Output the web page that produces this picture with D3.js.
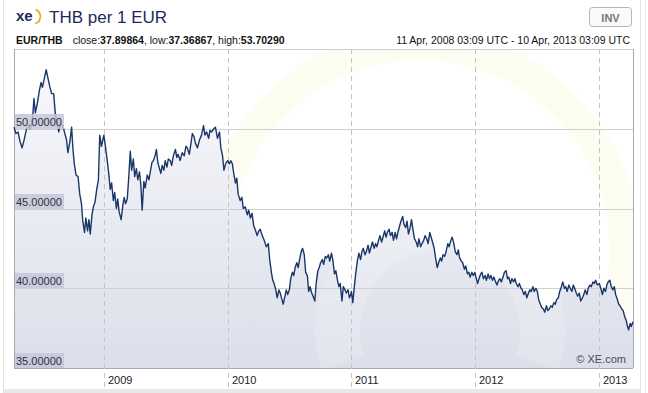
<!DOCTYPE html>
<html>
<head>
<meta charset="utf-8">
<script src="https://cdn.jsdelivr.net/npm/d3@7"></script>
<style>
  body { margin: 0; background: #fff; }
  svg { display: block; font-family: Arial, "Liberation Sans", sans-serif; }
</style>
</head>
<body>
<svg width="648" height="393"></svg>
<script>
var dates = [
  "2008-04-11","2008-04-17","2008-04-23","2008-04-29","2008-05-05","2008-05-11","2008-05-17","2008-05-23","2008-05-29","2008-06-04",
  "2008-06-09","2008-06-13","2008-06-19","2008-06-25","2008-06-30","2008-07-04","2008-07-10","2008-07-15","2008-07-21","2008-07-25",
  "2008-07-31","2008-08-06","2008-08-12","2008-08-18","2008-08-21","2008-08-27","2008-09-02","2008-09-08","2008-09-13","2008-09-17",
  "2008-09-23","2008-09-28","2008-10-02","2008-10-06","2008-10-11","2008-10-17","2008-10-22","2008-10-27","2008-10-31","2008-11-05",
  "2008-11-09","2008-11-14","2008-11-18","2008-11-22","2008-11-27","2008-12-01","2008-12-06","2008-12-11","2008-12-16","2008-12-20",
  "2008-12-25","2008-12-29",
  "2009-01-01","2009-01-05","2009-01-11","2009-01-15","2009-01-20","2009-01-24","2009-01-29","2009-02-02","2009-02-07","2009-02-11",
  "2009-02-15","2009-02-21","2009-02-26","2009-03-02","2009-03-06","2009-03-11","2009-03-15","2009-03-20","2009-03-24","2009-03-29",
  "2009-04-02","2009-04-07","2009-04-11","2009-04-16","2009-04-20","2009-04-24","2009-04-29","2009-05-03","2009-05-09","2009-05-14",
  "2009-05-18","2009-05-23","2009-05-27","2009-06-01","2009-06-05","2009-06-09","2009-06-14","2009-06-18","2009-06-22","2009-06-27",
  "2009-07-01","2009-07-06","2009-07-10","2009-07-16","2009-07-20","2009-07-25","2009-07-31","2009-08-04","2009-08-08","2009-08-14",
  "2009-08-20","2009-08-26","2009-08-31","2009-09-04","2009-09-10","2009-09-15","2009-09-19","2009-09-24","2009-09-28","2009-10-04",
  "2009-10-10","2009-10-16","2009-10-22","2009-10-26","2009-10-31","2009-11-06","2009-11-10","2009-11-15","2009-11-21","2009-11-26",
  "2009-12-02","2009-12-08","2009-12-12","2009-12-17","2009-12-21","2009-12-26",
  "2010-01-01","2010-01-06","2010-01-10","2010-01-15","2010-01-19","2010-01-24","2010-01-28","2010-02-01","2010-02-07","2010-02-12",
  "2010-02-16","2010-02-22","2010-02-28","2010-03-04","2010-03-09","2010-03-14","2010-03-19","2010-03-23","2010-03-29","2010-04-03",
  "2010-04-07","2010-04-13","2010-04-19","2010-04-25","2010-05-01","2010-05-05","2010-05-10","2010-05-14","2010-05-18","2010-05-23",
  "2010-05-27","2010-06-01","2010-06-05","2010-06-10","2010-06-14","2010-06-19","2010-06-23","2010-06-27","2010-07-02","2010-07-06",
  "2010-07-11","2010-07-15","2010-07-19","2010-07-24","2010-07-28","2010-08-02","2010-08-06","2010-08-10","2010-08-15","2010-08-19",
  "2010-08-24","2010-08-28","2010-09-01","2010-09-06","2010-09-10","2010-09-15","2010-09-19","2010-09-24","2010-09-28","2010-10-02",
  "2010-10-07","2010-10-11","2010-10-16","2010-10-20","2010-10-25","2010-10-29","2010-11-03","2010-11-07","2010-11-12","2010-11-16",
  "2010-11-21","2010-11-25","2010-11-29","2010-12-04","2010-12-08","2010-12-13","2010-12-17","2010-12-22","2010-12-26","2010-12-30",
  "2011-01-01","2011-01-05","2011-01-10","2011-01-14","2011-01-19","2011-01-23","2011-01-28","2011-02-01","2011-02-05","2011-02-10",
  "2011-02-14","2011-02-19","2011-02-23","2011-02-28","2011-03-04","2011-03-09","2011-03-13","2011-03-17","2011-03-22","2011-03-26",
  "2011-03-31","2011-04-04","2011-04-09","2011-04-13","2011-04-17","2011-04-22","2011-04-26","2011-05-01","2011-05-05","2011-05-10",
  "2011-05-14","2011-05-18","2011-05-23","2011-05-27","2011-06-01","2011-06-05","2011-06-10","2011-06-14","2011-06-18","2011-06-23",
  "2011-06-27","2011-07-02","2011-07-06","2011-07-11","2011-07-15","2011-07-19","2011-07-24","2011-07-28","2011-08-02","2011-08-06",
  "2011-08-11","2011-08-15","2011-08-20","2011-08-24","2011-08-28","2011-09-02","2011-09-06","2011-09-11","2011-09-15","2011-09-20",
  "2011-09-24","2011-09-28","2011-10-03","2011-10-07","2011-10-12","2011-10-16","2011-10-21","2011-10-25","2011-10-30","2011-11-03",
  "2011-11-08","2011-11-12","2011-11-16","2011-11-21","2011-11-25","2011-11-30","2011-12-04","2011-12-09","2011-12-13","2011-12-17",
  "2011-12-22","2011-12-26","2011-12-31",
  "2012-01-03","2012-01-08","2012-01-12","2012-01-17","2012-01-21","2012-01-25","2012-01-30","2012-02-03","2012-02-08","2012-02-12",
  "2012-02-16","2012-02-21","2012-02-25","2012-03-01","2012-03-05","2012-03-10","2012-03-14","2012-03-18","2012-03-23","2012-03-27",
  "2012-04-01","2012-04-05","2012-04-09","2012-04-14","2012-04-18","2012-04-23","2012-04-27","2012-05-01","2012-05-06","2012-05-10",
  "2012-05-15","2012-05-19","2012-05-23","2012-05-28","2012-06-01","2012-06-06","2012-06-10","2012-06-14","2012-06-19","2012-06-23",
  "2012-06-28","2012-07-02","2012-07-06","2012-07-11","2012-07-15","2012-07-20","2012-07-24","2012-07-29","2012-08-02","2012-08-06",
  "2012-08-11","2012-08-15","2012-08-20","2012-08-24","2012-08-28","2012-09-02","2012-09-06","2012-09-11","2012-09-15","2012-09-20",
  "2012-09-24","2012-09-28","2012-10-03","2012-10-07","2012-10-12","2012-10-16","2012-10-20","2012-10-25","2012-10-29","2012-11-03",
  "2012-11-07","2012-11-12","2012-11-16","2012-11-20","2012-11-25","2012-11-29","2012-12-04","2012-12-08","2012-12-13","2012-12-17",
  "2012-12-21","2012-12-26",
  "2013-01-01","2013-01-05","2013-01-10","2013-01-14","2013-01-19","2013-01-23","2013-01-27","2013-02-01","2013-02-05","2013-02-10",
  "2013-02-14","2013-02-18","2013-02-23","2013-02-27","2013-03-03","2013-03-08","2013-03-12","2013-03-17","2013-03-21","2013-03-25",
  "2013-03-28","2013-04-02","2013-04-05","2013-04-10"
];
var rates = [
  50.1,49.7,49.8,49.2,48.8,49.3,49.9,50.2,50.0,50.4,
  51.9,51.0,51.6,52.4,52.9,52.6,53.2,53.7,53.1,52.7,
  52.2,52.2,50.7,50.2,49.8,50.3,50.2,49.7,49.3,48.5,
  49.2,50.1,48.7,47.8,47.1,47.0,45.9,45.3,44.2,43.5,
  44.4,43.6,44.3,43.4,44.6,45.1,45.4,46.2,46.8,49.6,
  48.9,49.3,
  49.6,49.0,48.0,47.3,46.2,46.6,45.5,46.0,45.0,45.6,
  44.8,44.3,45.2,45.7,45.3,45.6,46.8,48.6,47.4,48.1,
  47.0,47.5,46.8,47.3,46.5,44.9,46.7,46.3,47.1,46.8,
  47.3,47.9,48.0,48.3,48.7,47.9,47.5,47.2,47.7,47.4,
  48.0,47.6,48.1,48.0,47.7,48.3,48.7,48.2,48.4,48.0,
  48.5,48.3,48.9,48.8,48.4,49.1,49.7,49.5,49.1,48.8,
  49.3,49.6,50.2,49.6,49.8,49.4,49.9,49.8,50.0,50.1,
  49.4,49.8,48.8,48.3,47.4,47.8,
  48.0,47.8,48.0,47.8,47.2,46.6,46.9,45.9,45.5,45.7,
  45.0,45.1,44.6,44.9,44.4,44.7,43.9,43.7,43.3,43.6,
  43.7,43.3,43.0,42.6,42.8,41.8,41.0,40.5,40.3,39.9,
  39.4,39.9,39.7,39.3,39.0,39.5,39.9,39.6,39.9,40.6,
  41.0,40.8,41.3,41.6,41.3,41.9,42.3,42.5,42.1,41.0,
  40.8,39.8,40.1,39.7,39.5,39.2,40.3,41.1,41.3,41.6,
  41.8,41.5,42.0,41.9,42.1,41.7,42.2,41.8,40.9,41.1,
  40.5,40.1,40.3,39.2,40.1,39.9,39.7,39.9,39.4,39.6,
  39.8,39.1,40.2,41.0,41.8,42.2,41.8,42.3,42.5,42.1,
  42.3,42.7,42.2,42.6,42.9,42.5,42.8,42.6,43.0,43.3,
  42.9,43.2,43.6,43.2,43.5,43.7,43.3,43.5,43.0,43.5,
  43.1,43.5,43.9,44.2,44.5,44.0,43.8,44.2,43.4,43.8,
  44.3,43.6,43.1,42.9,42.6,43.1,42.6,42.8,43.0,43.3,
  43.1,42.8,43.5,43.2,42.9,42.5,41.9,41.3,41.6,41.9,
  41.7,42.1,42.0,42.3,42.8,42.6,43.0,43.2,42.8,42.3,
  42.1,42.4,41.9,41.7,41.6,41.2,41.4,40.9,41.0,40.7,
  41.0,40.8,41.0,
  40.7,40.3,40.6,40.9,41.0,40.6,40.8,40.5,40.9,40.6,
  40.8,40.5,40.7,40.4,40.2,40.5,40.6,40.4,40.7,41.0,
  41.1,40.6,40.7,40.3,40.6,40.4,40.6,40.3,40.1,40.3,
  40.0,39.9,39.6,39.8,39.4,39.7,39.9,39.8,40.1,39.8,
  40.0,39.8,39.3,39.0,38.8,38.7,38.5,38.9,38.6,38.7,
  38.9,38.8,39.1,39.0,39.3,39.4,39.8,40.1,40.4,40.0,
  40.1,39.8,40.2,40.0,39.8,40.2,40.0,39.7,39.5,39.7,
  39.2,39.4,39.6,39.9,39.6,40.0,40.2,40.1,40.4,40.3,
  40.5,40.2,
  40.3,40.0,39.6,40.0,39.8,40.2,40.4,40.5,40.1,39.9,
  40.1,39.6,39.3,39.0,38.9,38.7,38.6,38.2,38.0,37.6,
  37.4,37.8,37.6,37.9
];
var yTicks = [35, 40, 45, 50];
var yearTicks = ["2009-01-01", "2010-01-01", "2011-01-01", "2012-01-01", "2013-01-01"];
var rangeStart = "2008-04-11 03:09";
var rangeEnd = "2013-04-10 03:09";

var parseDay = d3.timeParse("%Y-%m-%d");
var parseStamp = d3.timeParse("%Y-%m-%d %H:%M");
var series = dates.map(function (d, i) { return { date: parseDay(d), rate: rates[i] }; });

var svg = d3.select("svg");
var plotL = 14, plotR = 633, plotT = 49, plotB = 368;

var x = d3.scaleTime().domain([parseStamp(rangeStart), parseStamp(rangeEnd)]).range([plotL, plotR]);
var y = d3.scaleLinear().domain([35, 55]).range([plotB, plotT]);

var defs = svg.append("defs");
var grad = defs.append("linearGradient").attr("id", "areaGrad").attr("x1", 0).attr("y1", 0).attr("x2", 0).attr("y2", 1);
grad.append("stop").attr("offset", "0%").attr("stop-color", "#f7f8fb");
grad.append("stop").attr("offset", "100%").attr("stop-color", "#dcdfea");
defs.append("clipPath").attr("id", "plotClip")
  .append("rect").attr("x", plotL).attr("y", plotT).attr("width", plotR - plotL).attr("height", plotB - plotT);

// page frame
svg.append("line").attr("x1", 3.5).attr("x2", 3.5).attr("y1", 0).attr("y2", 393).attr("stroke", "#e2e2e2");
svg.append("line").attr("x1", 640.5).attr("x2", 640.5).attr("y1", 0).attr("y2", 393).attr("stroke", "#e2e2e2");
svg.append("line").attr("x1", 645.5).attr("x2", 645.5).attr("y1", 0).attr("y2", 393).attr("stroke", "#ececec");
svg.append("rect").attr("x", 4).attr("y", 389).attr("width", 636).attr("height", 4).attr("fill", "#e8e8e8");

// header
svg.append("text").attr("x", 16).attr("y", 21).attr("font-size", 15).attr("font-weight", "bold")
  .attr("fill", "#1d2a5c").text("xe");
svg.append("path").attr("d", d3.arc()({ innerRadius: 6.5, outerRadius: 8.2, startAngle: 0.35, endAngle: 2.85 }))
  .attr("transform", "translate(33,16.5)").attr("fill", "#f2a81d");
svg.append("text").attr("x", 49).attr("y", 23).attr("font-size", 17).attr("fill", "#1d2a5c").text("THB per 1 EUR");

var info = svg.append("text").attr("x", 16).attr("y", 44).attr("font-size", 10.5).attr("fill", "#111");
info.append("tspan").attr("font-weight", "bold").text("EUR/THB");
info.append("tspan").attr("dx", 10).text("close:");
info.append("tspan").attr("font-weight", "bold").text("37.89864");
info.append("tspan").text(", low:");
info.append("tspan").attr("font-weight", "bold").text("37.36867");
info.append("tspan").text(", high:");
info.append("tspan").attr("font-weight", "bold").text("53.70290");

svg.append("text").attr("x", 630).attr("y", 44).attr("font-size", 10.5).attr("fill", "#111")
  .attr("text-anchor", "end").text("11 Apr, 2008 03:09 UTC - 10 Apr, 2013 03:09 UTC");

svg.append("rect").attr("x", 589.5).attr("y", 7.5).attr("width", 42).attr("height", 19).attr("rx", 3)
  .attr("fill", "#fafafa").attr("stroke", "#b5b5b5");
svg.append("text").attr("x", 610.5).attr("y", 21.5).attr("font-size", 11).attr("font-weight", "bold")
  .attr("fill", "#777").attr("text-anchor", "middle").text("INV");

// plot background + faint watermark ring
svg.append("rect").attr("x", plotL).attr("y", plotT).attr("width", plotR - plotL).attr("height", plotB - plotT).attr("fill", "#fff");
var wm = svg.append("g").attr("clip-path", "url(#plotClip)");
wm.append("circle").attr("cx", 420).attr("cy", 250).attr("r", 205).attr("fill", "none")
  .attr("stroke", "#fefdf2").attr("stroke-width", 30);

// area under the line
var area = d3.area().x(function (d) { return x(d.date); }).y0(plotB).y1(function (d) { return y(d.rate); });
svg.append("path").datum(series).attr("d", area).attr("fill", "url(#areaGrad)").attr("clip-path", "url(#plotClip)");

var wm2 = svg.append("g").attr("clip-path", "url(#plotClip)").attr("fill", "#ffffff").attr("opacity", 0.18);
wm2.append("path").attr("d", d3.arc()({ innerRadius: 80, outerRadius: 125, startAngle: -1.9, endAngle: 1.9 }))
  .attr("transform", "translate(440,330)");

// grid
svg.append("g").selectAll("line").data(yTicks.concat([55])).enter().append("line")
  .attr("x1", plotL).attr("x2", plotR).attr("y1", function (d) { return Math.round(y(d)) + 0.5; })
  .attr("y2", function (d) { return Math.round(y(d)) + 0.5; })
  .attr("stroke", function (d) { return d === 35 ? "#a9a9b5" : "#cfcfd4"; });

var years = yearTicks.map(parseDay);
svg.append("g").selectAll("line").data(years).enter().append("line")
  .attr("x1", function (d) { return Math.round(x(d)) + 0.5; })
  .attr("x2", function (d) { return Math.round(x(d)) + 0.5; })
  .attr("y1", plotT).attr("y2", 389)
  .attr("stroke", "#c4c4c8").attr("stroke-dasharray", "5,4");

svg.append("line").attr("x1", plotL + 0.5).attr("x2", plotL + 0.5).attr("y1", plotT).attr("y2", plotB)
  .attr("stroke", "#a9a9b5");
svg.append("line").attr("x1", plotR + 0.5).attr("x2", plotR + 0.5).attr("y1", plotT).attr("y2", plotB)
  .attr("stroke", "#a9a9b5");

// the rate line
var line = d3.line().x(function (d) { return x(d.date); }).y(function (d) { return y(d.rate); });
svg.append("path").datum(series).attr("d", line).attr("fill", "none")
  .attr("stroke", "#1a3668").attr("stroke-width", 1.4).attr("stroke-linejoin", "round");

// y labels
var yl = svg.append("g").selectAll("g").data(yTicks).enter().append("g");
yl.append("rect").attr("x", plotL + 1).attr("y", function (d) { return Math.round(y(d)) - 15; })
  .attr("width", 49).attr("height", 15).attr("fill", "#c5c6dc").attr("opacity", 0.85);
yl.append("text").attr("x", plotL + 2).attr("y", function (d) { return Math.round(y(d)) - 3; })
  .attr("font-size", 11).attr("fill", "#333").text(function (d) { return d.toFixed(5); });

// year labels
svg.append("g").selectAll("text").data(years).enter().append("text")
  .attr("x", function (d) { return Math.round(x(d)) + 4; }).attr("y", 384)
  .attr("font-size", 11).attr("fill", "#222").text(function (d) { return d3.timeFormat("%Y")(d); });

svg.append("text").attr("x", 626).attr("y", 363).attr("font-size", 11).attr("fill", "#4a4a5a")
  .attr("text-anchor", "end").text("© XE.com");
</script>
</body>
</html>
